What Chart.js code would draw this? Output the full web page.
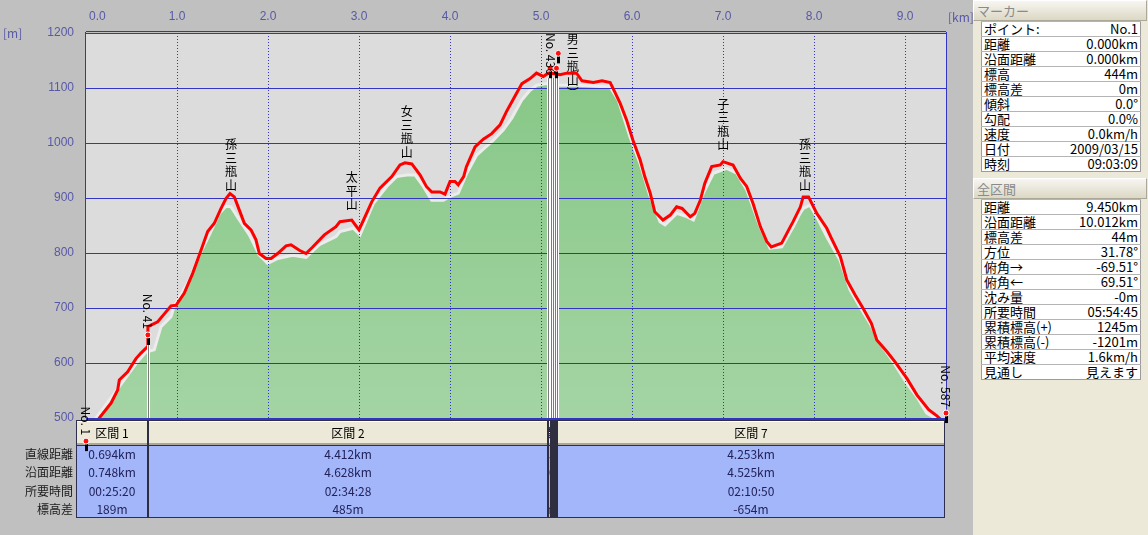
<!DOCTYPE html>
<html lang="ja">
<head>
<meta charset="utf-8">
<title>断面図</title>
<script src="https://cdn.jsdelivr.net/npm/chart.js"></script>
<style>
  html, body { margin: 0; padding: 0; }
  body { width: 1148px; height: 535px; overflow: hidden; background: #c0c0c0; position: relative; font-family: "Noto Sans CJK JP", sans-serif; }
  #chart { position: absolute; left: 0; top: 0; }
  #panel { position: absolute; left: 973px; top: 0; width: 175px; height: 535px; background: #ece9d8; }
  .bar { position: absolute; left: 0; width: 169px; height: 19px; line-height: 19px; padding-left: 3px; font-size: 13px; color: #8a8a8a;
         background: linear-gradient(#f7f6f1, #dcd8c5); border-top: 1px solid #fff; border-left: 1px solid #fff; border-bottom: 1px solid #aca899; border-right: 1px solid #aca899; }
  .info { position: absolute; left: 8px; width: 160px; border-collapse: collapse; background: #fff; font-size: 13px; color: #000; border: 1px solid #9c9c9c; }
  .info td { height: 14px; line-height: 14px; padding: 0 2px; border-top: 1px solid #b4b4b4; white-space: nowrap; }
  .info td.v { text-align: right; }
</style>
</head>
<body>
<canvas id="chart" width="973" height="535"></canvas>
<div id="panel">
  <div class="bar" style="top:0">マーカー</div>
  <table class="info" id="markerTable" style="top:21px"></table>
  <div class="bar" style="top:178px">全区間</div>
  <table class="info" id="totalTable" style="top:199px"></table>
</div>
<script>
// GPS軌跡 (距離 km / 標高 m)
const trackDist = [0, 0.10, 0.146, 0.275, 0.348, 0.366, 0.458, 0.549, 0.604, 0.678, 0.68, 0.788, 0.879, 0.934, 0.989,
  1.08, 1.172, 1.264, 1.337, 1.41, 1.484, 1.538, 1.582, 1.63, 1.685, 1.74, 1.813, 1.868, 1.905, 1.978,
  2.033, 2.106, 2.198, 2.253, 2.344, 2.418, 2.491, 2.619, 2.747, 2.79, 2.92, 3.00, 3.05, 3.14, 3.23,
  3.36, 3.45, 3.505, 3.58, 3.67, 3.74, 3.80, 3.89, 3.945, 4.0, 4.055, 4.09, 4.15, 4.18, 4.275,
  4.366, 4.458, 4.55, 4.62, 4.71, 4.79, 4.88, 4.95, 5.025, 5.08, 5.15, 5.21, 5.28, 5.39, 5.45,
  5.575, 5.67, 5.76, 5.81, 5.87, 5.94, 6.01, 6.09, 6.14, 6.20, 6.25, 6.34, 6.42, 6.49, 6.55,
  6.64, 6.69, 6.75, 6.80, 6.875, 6.97, 7.00, 7.11, 7.19, 7.26, 7.33, 7.41, 7.48, 7.53, 7.645,
  7.74, 7.77, 7.85, 7.88, 7.94, 8.03, 8.14, 8.19, 8.29, 8.36, 8.45, 8.54, 8.63, 8.69, 8.80,
  8.89, 9.02, 9.13, 9.26, 9.35, 9.45];
const trackElev = [444, 482, 500, 527, 551, 569, 584, 608, 618, 630, 666, 675, 693, 704, 705,
  727, 763, 805, 839, 854, 881, 899, 908, 902, 878, 854, 842, 824, 799, 790,
  790, 799, 813, 815, 805, 799, 811, 833, 848, 857, 860, 842, 860, 893, 918,
  939, 960, 964, 962, 942, 921, 911, 911, 907, 930, 930, 924, 939, 957, 993,
  1007, 1017, 1033, 1057, 1084, 1108, 1117, 1127, 1121, 1127, 1126, 1124, 1127, 1127, 1113,
  1110, 1113, 1110, 1093, 1072, 1042, 1005, 969, 939, 909, 875, 860, 869, 884, 881,
  866, 872, 896, 927, 957, 960, 966, 960, 936, 921, 890, 848, 821, 811, 818,
  848, 857, 884, 902, 902, 872, 845, 827, 793, 751, 724, 699, 672, 642, 621,
  602, 572, 542, 515, 504, 488];

// 地形断面 (DEM)
const groundDist = [0, 0.11, 0.366, 0.549, 0.659, 0.75, 0.824, 0.934, 0.967, 1.135, 1.245, 1.355, 1.465, 1.538, 1.593,
  1.685, 1.795, 1.905, 1.997, 2.107, 2.271, 2.418, 2.564, 2.747, 2.791, 2.937, 3.011, 3.157, 3.304, 3.414,
  3.524, 3.615, 3.707, 3.799, 3.926, 4.0, 4.091, 4.184, 4.293, 4.476, 4.586, 4.678, 4.788, 4.879, 4.953,
  5.063, 5.209, 5.392, 5.758, 5.849, 5.978, 6.088, 6.198, 6.308, 6.363, 6.491, 6.601, 6.674, 6.784, 6.893,
  7.041, 7.151, 7.26, 7.407, 7.516, 7.645, 7.773, 7.846, 7.882, 7.956, 8.048, 8.139, 8.286, 8.396, 8.505,
  8.615, 8.725, 8.871, 9.019, 9.129, 9.238, 9.33, 9.45];
const groundElev = [440, 500, 557, 599, 620, 624, 666, 684, 702, 751, 796, 833, 872, 885, 884,
  860, 833, 796, 781, 790, 796, 792, 815, 830, 839, 845, 833, 890, 921, 939,
  942, 942, 921, 896, 896, 903, 909, 945, 978, 1005, 1024, 1045, 1078, 1096, 1105,
  1108, 1105, 1105, 1102, 1078, 1011, 963, 903, 857, 851, 872, 866, 860, 909, 945,
  954, 945, 915, 848, 809, 811, 848, 872, 881, 887, 860, 830, 787, 733, 702,
  672, 636, 602, 563, 539, 509, 500, 485];

const distTicks = [0, 1, 2, 3, 4, 5, 6, 7, 8, 9];
const elevTicks = [500, 600, 700, 800, 900, 1000, 1100, 1200];

// 山名ラベル
const peakNames = ['孫三瓶山', '太平山', '女三瓶山', '男三瓶山)', '子三瓶山', '孫三瓶山'];
const peakDist = [1.593, 2.92, 3.524, 5.348, 7.003, 7.901];
const peakElev = [909, 873, 969, 1075, 982, 909];

// マーカー
const markerNames = ['No. 1', 'No. 41', 'No. 436', '', '', 'No. 587'];
const markerDist = [0, 0.68, 5.10, 5.17, 5.19, 9.45];
const markerElev = [458, 651, 1136, 1136, 1163, 509];

// 区間表
const sectionNames = ['区間 1', '区間 2', '区間 3', '区間 4', '区間 5', '区間 6', '区間 7'];
const sectionBounds = [0, 0.68, 5.08, 5.105, 5.13, 5.155, 5.18, 9.45];
const rowLabels = ['直線距離', '沿面距離', '所要時間', '標高差'];
const secStraight = ['0.694km', '4.412km', '0.025km', '0.020km', '0.024km', '0.022km', '4.253km'];
const secSurface = ['0.748km', '4.628km', '0.030km', '0.025km', '0.028km', '0.028km', '4.525km'];
const secTime = ['00:25:20', '02:34:28', '00:12:10', '00:10:05', '00:11:20', '00:10:32', '02:10:50'];
const secDiff = ['189m', '485m', '6m', '4m', '8m', '6m', '-654m'];

// 右パネル
const markerKeys = ['ポイント:', '距離', '沿面距離', '標高', '標高差', '傾斜', '勾配', '速度', '日付', '時刻'];
const markerVals = ['No.1', '0.000km', '0.000km', '444m', '0m', '0.0°', '0.0%', '0.0km/h', '2009/03/15', '09:03:09'];
const totalKeys = ['距離', '沿面距離', '標高差', '方位', '俯角→', '俯角←', '沈み量', '所要時間', '累積標高(+)', '累積標高(-)', '平均速度', '見通し'];
const totalVals = ['9.450km', '10.012km', '44m', '31.78°', '-69.51°', '69.51°', '-0m', '05:54:45', '1245m', '-1201m', '1.6km/h', '見えます'];

function fillTable(id, keys, vals) {
  document.getElementById(id).innerHTML = keys.map((k, i) =>
    `<tr><td>${k}</td><td class="v">${vals[i]}</td></tr>`).join("");
}
fillTable("markerTable", markerKeys, markerVals);
fillTable("totalTable", totalKeys, totalVals);

const FONT = '"Noto Sans CJK JP", sans-serif';
const NUMFONT = '"Liberation Sans", sans-serif';
const AXIS_BLUE = '#5858a8';
const GRID_BLUE = '#3434c4';

function drawGrid(chart) {
  const { ctx, chartArea: a, scales: { x, y } } = chart;
  ctx.save();
  ctx.strokeStyle = GRID_BLUE;
  ctx.lineWidth = 1;
  elevTicks.forEach(v => {
    const py = Math.round(y.getPixelForValue(v)) + 0.5;
    ctx.beginPath(); ctx.moveTo(a.left, py); ctx.lineTo(a.right, py); ctx.stroke();
  });
  ctx.setLineDash([1, 2]);
  distTicks.forEach(v => {
    if (v === 0) return;
    const px = Math.round(x.getPixelForValue(v)) + 0.5;
    ctx.beginPath(); ctx.moveTo(px, a.top); ctx.lineTo(px, a.bottom); ctx.stroke();
  });
  ctx.restore();
}

function drawMarks(chart) {
  const { ctx, chartArea: a, scales: { x, y } } = chart;
  ctx.save();
  // 枠
  ctx.strokeStyle = GRID_BLUE;
  ctx.lineWidth = 1;
  ctx.beginPath();
  ctx.moveTo(a.left - 0.5, a.top - 1); ctx.lineTo(a.left - 0.5, a.bottom);
  ctx.moveTo(a.right + 0.5, a.top - 1); ctx.lineTo(a.right + 0.5, a.bottom);
  ctx.moveTo(a.left, a.top - 1.5); ctx.lineTo(a.right, a.top - 1.5);
  ctx.stroke();
  ctx.fillStyle = GRID_BLUE;
  ctx.fillRect(a.left, a.bottom, a.right - a.left, 2);

  // 区間境界の縦線
  sectionBounds.slice(1, -1).forEach(d => {
    const px = Math.round(x.getPixelForValue(d));
    let best = 0;
    markerDist.forEach((m, j) => { if (Math.abs(m - d) < Math.abs(markerDist[best] - d)) best = j; });
    const top = Math.round(y.getPixelForValue(markerElev[best])) + 10;
    ctx.fillStyle = '#ffffff';
    ctx.fillRect(px - 1, top, 3, a.bottom - top);
    ctx.fillStyle = '#7a7a7a';
    ctx.fillRect(px, top, 1, a.bottom - top);
  });

  // 山名 (縦書き)
  ctx.save();
  ctx.beginPath(); ctx.rect(a.left, a.top, a.right - a.left, a.bottom - a.top); ctx.clip();
  ctx.font = '12px ' + FONT;
  ctx.fillStyle = '#000';
  ctx.textAlign = 'center';
  ctx.textBaseline = 'middle';
  peakNames.forEach((name, i) => {
    const chars = [...name].map(c => c === '(' ? '︵' : c === ')' ? '︶' : c);
    const px = x.getPixelForValue(peakDist[i]);
    const base = y.getPixelForValue(peakElev[i]) - 8;
    chars.forEach((c, k) => ctx.fillText(c, px, base - (chars.length - 1 - k) * 13.5));
  });
  ctx.restore();

  // マーカー
  markerDist.forEach((d, i) => {
    const px = x.getPixelForValue(d);
    const py = y.getPixelForValue(markerElev[i]);
    ctx.fillStyle = '#000';
    ctx.fillRect(Math.round(px) - 1, py, 3, 10);
    ctx.beginPath();
    ctx.arc(px, py, 3, 0, Math.PI * 2);
    ctx.fillStyle = '#ff1010';
    ctx.fill();
    ctx.strokeStyle = '#fff';
    ctx.lineWidth = 1;
    ctx.stroke();
    const name = markerNames[i];
    if (!name) return;
    ctx.font = '12px ' + FONT;
    const w = ctx.measureText(name).width;
    let start = py - 6 - w;
    if (start < a.top) start = a.top;
    ctx.save();
    ctx.translate(px, start);
    ctx.rotate(Math.PI / 2);
    ctx.fillStyle = '#000';
    ctx.textAlign = 'left';
    ctx.textBaseline = 'middle';
    ctx.fillText(name, 0, 0);
    ctx.restore();
  });
  ctx.restore();
}

function drawAxisText(chart) {
  const { ctx, chartArea: a, scales: { x } } = chart;
  ctx.save();
  ctx.fillStyle = AXIS_BLUE;
  ctx.textBaseline = 'middle';
  ctx.font = '12px ' + NUMFONT;
  ctx.textAlign = 'center';
  distTicks.forEach(v => {
    const t = v.toFixed(1);
    const w = ctx.measureText(t).width;
    const px = Math.max(x.getPixelForValue(v), a.left + w / 2 + 3);
    ctx.fillText(t, px, 17);
  });
  ctx.font = '12px ' + FONT;
  ctx.textAlign = 'left';
  ctx.fillText('[km]', a.right + 2, 17);
  ctx.fillText('[m]', 3, a.top);
  ctx.restore();
}

function drawTable(chart) {
  const { ctx, chartArea: a, scales: { x } } = chart;
  const top = 420, headB = 445, bot = 518;
  const left = a.left - 10;
  const edges = sectionBounds.map((d, i) => i === 0 ? left : Math.round(x.getPixelForValue(d)));
  const right = edges[edges.length - 1] - 1;
  edges[edges.length - 1] = right;
  const rows = [secStraight, secSurface, secTime, secDiff];
  const rowY = [454, 472, 491, 509];

  ctx.save();
  ctx.fillStyle = '#ece9d8';
  ctx.fillRect(left, top, right - left, headB - top);
  ctx.fillStyle = '#a2b6f9';
  ctx.fillRect(left, headB, right - left, bot - headB);

  sectionNames.forEach((name, i) => {
    const x0 = edges[i], x1 = edges[i + 1], cx = (x0 + x1) / 2;
    ctx.save();
    ctx.beginPath(); ctx.rect(x0, top, x1 - x0, bot - top); ctx.clip();
    ctx.fillStyle = '#ffffff';
    ctx.fillRect(x0 + 1, top + 1, x1 - x0 - 2, 1);
    ctx.fillStyle = '#aca899';
    ctx.fillRect(x0 + 1, headB - 2, x1 - x0 - 2, 2);
    ctx.font = '12px ' + FONT;
    ctx.textAlign = 'center';
    ctx.textBaseline = 'middle';
    ctx.fillStyle = '#000';
    ctx.fillText(name, cx, 433);
    ctx.fillStyle = '#22225a';
    rows.forEach((arr, r) => ctx.fillText(arr[i], cx, rowY[r]));
    ctx.restore();
  });

  ctx.fillStyle = '#2e2e40';
  edges.slice(1, -1).forEach(e => ctx.fillRect(e - 1, top, 2, bot - top));
  ctx.strokeStyle = '#2e2e4e';
  ctx.lineWidth = 1;
  ctx.strokeRect(left + 0.5, headB + 0.5, right - left - 1, bot - headB - 1);
  ctx.strokeRect(left + 0.5, top + 0.5, right - left - 1, bot - top - 1);

  ctx.font = '12px ' + FONT;
  ctx.textAlign = 'right';
  ctx.textBaseline = 'middle';
  ctx.fillStyle = '#1a1a1a';
  rowLabels.forEach((l, r) => ctx.fillText(l, left - 3, rowY[r]));
  ctx.restore();
}

const profilePlugin = {
  id: 'profile',
  beforeDraw(chart) {
    const { ctx, chartArea: a } = chart;
    ctx.save();
    ctx.fillStyle = '#c0c0c0';
    ctx.fillRect(0, 0, chart.width, chart.height);
    ctx.fillStyle = '#dcdcdc';
    ctx.fillRect(a.left, a.top, a.right - a.left, a.bottom - a.top);
    ctx.restore();
  },
  afterDatasetDraw(chart, args) {
    if (args.index === 0) drawGrid(chart);
  },
  afterDatasetsDraw(chart) {
    drawTable(chart);
    drawMarks(chart);
    drawAxisText(chart);
  }
};

function greenFill(c) {
  const a = c.chart.chartArea;
  if (!a) return '#90cc90';
  const g = c.chart.ctx.createLinearGradient(0, a.top, 0, a.bottom);
  g.addColorStop(0, '#84c684');
  g.addColorStop(1, '#a4d4a4');
  return g;
}

new Chart(document.getElementById('chart'), {
  type: 'line',
  data: {
    datasets: [
      {
        label: '地形',
        data: groundDist.map((d, i) => ({ x: d, y: groundElev[i] })),
        fill: 'start',
        backgroundColor: greenFill,
        borderColor: '#ececec',
        borderWidth: 3,
        pointRadius: 0,
        tension: 0,
        clip: 0,
        order: 2
      },
      {
        label: '軌跡',
        data: trackDist.map((d, i) => ({ x: d, y: trackElev[i] })),
        fill: false,
        borderColor: '#ff0000',
        borderWidth: 3,
        pointRadius: 0,
        tension: 0,
        clip: 0,
        order: 1
      }
    ]
  },
  options: {
    responsive: false,
    animation: false,
    devicePixelRatio: 1,
    layout: { padding: { left: 0, right: 27, top: 0, bottom: 117 } },
    plugins: { legend: { display: false }, tooltip: { enabled: false } },
    scales: {
      x: {
        type: 'linear',
        position: 'top',
        min: 0,
        max: 9.45,
        ticks: { display: false, stepSize: 1, includeBounds: false },
        grid: { display: false },
        border: { display: false },
        afterFit: s => { s.height = 33; }
      },
      y: {
        min: 500,
        max: 1200,
        ticks: { stepSize: 100, color: AXIS_BLUE, padding: 12, font: { family: NUMFONT, size: 12 }, callback: v => String(v) },
        grid: { display: false, drawTicks: false },
        border: { display: false },
        afterFit: s => { s.width = 86; }
      }
    }
  },
  plugins: [profilePlugin]
});
</script>
</body>
</html>
